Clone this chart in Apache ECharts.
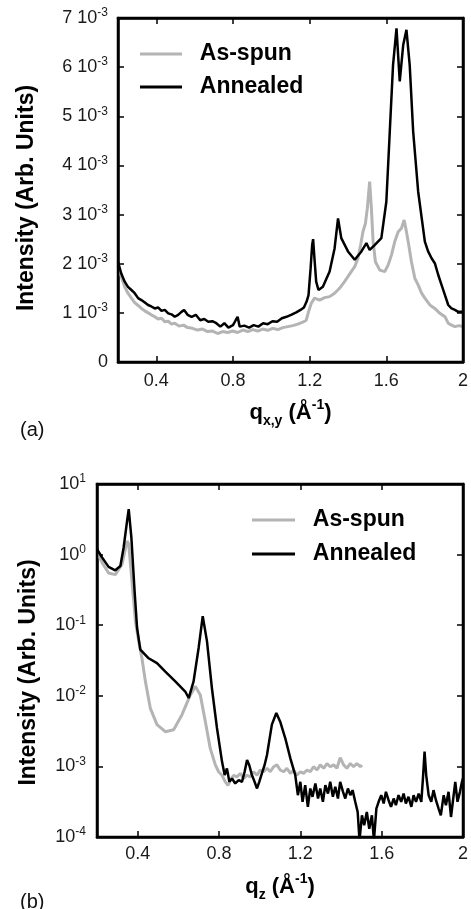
<!DOCTYPE html>
<html>
<head>
<meta charset="utf-8">
<script src="https://cdn.jsdelivr.net/npm/echarts@6/dist/echarts.min.js"></script>
<style>
  html, body { margin: 0; padding: 0; background: #fff; }
  #chartA { width: 471px; height: 455px; }
  #chartB { width: 471px; height: 454px; }
</style>
</head>
<body>
<div id="chartA"></div>
<div id="chartB"></div>
<script>
// (a) in-plane cut: [q_xy, intensity in units of 1e-3]
var annealedA = [
  [0.2, 2.04], [0.217, 1.8], [0.235, 1.635], [0.252, 1.53], [0.27, 1.465], [0.287, 1.4], [0.305, 1.3], [0.322, 1.26],
  [0.34, 1.21], [0.357, 1.16], [0.374, 1.13], [0.392, 1.09], [0.409, 1.11], [0.427, 1.04], [0.444, 1.06], [0.462, 0.99],
  [0.479, 0.97], [0.496, 0.92], [0.514, 0.96], [0.531, 1.02], [0.545, 1.06], [0.563, 0.96], [0.584, 0.92], [0.606, 0.96],
  [0.629, 0.85], [0.65, 0.875], [0.671, 0.82], [0.692, 0.83], [0.713, 0.79], [0.734, 0.72], [0.755, 0.79], [0.776, 0.7],
  [0.8, 0.75], [0.814, 0.85], [0.824, 0.92], [0.835, 0.72], [0.859, 0.74], [0.884, 0.7], [0.908, 0.75], [0.932, 0.72],
  [0.957, 0.79], [0.981, 0.77], [1.006, 0.83], [1.03, 0.82], [1.055, 0.89], [1.079, 0.92], [1.103, 0.96], [1.13, 1.01],
  [1.152, 1.06], [1.17, 1.11], [1.184, 1.23], [1.194, 1.36], [1.205, 1.91], [1.213, 2.38], [1.218, 2.5], [1.225, 2.11],
  [1.234, 1.635], [1.246, 1.465], [1.269, 1.53], [1.304, 1.84], [1.33, 2.31], [1.348, 2.92], [1.365, 2.52], [1.4, 2.25],
  [1.435, 2.08], [1.47, 2.25], [1.496, 2.42], [1.513, 2.28], [1.539, 2.38], [1.574, 2.52], [1.6, 3.26], [1.618, 4.69],
  [1.635, 6.04], [1.653, 6.79], [1.67, 5.71], [1.688, 6.45], [1.705, 6.76], [1.722, 6.04], [1.74, 4.69], [1.766, 3.47],
  [1.801, 2.45], [1.818, 2.25], [1.836, 2.11], [1.853, 2.01], [1.871, 1.77], [1.888, 1.57], [1.906, 1.36], [1.923, 1.16],
  [1.94, 1.09], [1.958, 1.06], [1.975, 1.02], [2.0, 1.02]
];
var asSpunA = [
  [0.2, 1.97], [0.217, 1.74], [0.235, 1.53], [0.252, 1.4], [0.27, 1.3], [0.287, 1.21], [0.305, 1.15], [0.322, 1.09],
  [0.34, 1.04], [0.357, 1.0], [0.374, 0.96], [0.392, 0.92], [0.409, 0.875], [0.427, 0.89], [0.444, 0.82], [0.462, 0.83],
  [0.479, 0.77], [0.496, 0.79], [0.519, 0.73], [0.542, 0.75], [0.563, 0.7], [0.589, 0.685], [0.615, 0.65], [0.641, 0.67],
  [0.667, 0.62], [0.694, 0.63], [0.72, 0.58], [0.746, 0.62], [0.772, 0.6], [0.798, 0.63], [0.824, 0.6], [0.851, 0.65],
  [0.877, 0.62], [0.903, 0.66], [0.929, 0.63], [0.955, 0.67], [0.981, 0.645], [1.007, 0.685], [1.034, 0.66], [1.06, 0.7],
  [1.086, 0.72], [1.112, 0.74], [1.138, 0.77], [1.164, 0.81], [1.182, 0.85], [1.194, 1.02], [1.208, 1.19], [1.225, 1.3],
  [1.252, 1.26], [1.278, 1.31], [1.304, 1.33], [1.33, 1.4], [1.356, 1.5], [1.382, 1.635], [1.4, 1.74], [1.417, 1.84],
  [1.435, 1.94], [1.452, 2.11], [1.466, 2.38], [1.478, 2.65], [1.491, 2.82], [1.501, 3.13], [1.513, 3.67], [1.522, 3.13],
  [1.531, 2.45], [1.543, 2.04], [1.566, 1.87], [1.592, 1.84], [1.609, 1.97], [1.627, 2.18], [1.644, 2.45], [1.662, 2.65],
  [1.679, 2.72], [1.693, 2.89], [1.705, 2.65], [1.717, 2.38], [1.731, 2.04], [1.749, 1.7], [1.766, 1.57], [1.784, 1.4],
  [1.801, 1.3], [1.827, 1.16], [1.853, 1.09], [1.879, 0.99], [1.906, 0.92], [1.923, 0.79], [1.94, 0.75], [1.958, 0.72],
  [1.979, 0.74], [2.0, 0.72]
];

// (b) out-of-plane cut: [q_z, intensity]
var annealedB = [
  [0.2, 1.19], [0.225, 0.91], [0.257, 0.67], [0.29, 0.6], [0.315, 0.69], [0.331, 1.26], [0.348, 3.0], [0.356, 4.4],
  [0.369, 1.75], [0.385, 0.3], [0.397, 0.092], [0.413, 0.045], [0.454, 0.034], [0.495, 0.029], [0.536, 0.022], [0.585, 0.016],
  [0.634, 0.0115], [0.651, 0.0093], [0.675, 0.016], [0.7, 0.048], [0.72, 0.134], [0.741, 0.059], [0.765, 0.0129], [0.79, 0.0035],
  [0.815, 0.00116], [0.828, 0.000753], [0.839, 0.000937], [0.851, 0.000605], [0.864, 0.000675], [0.88, 0.000573], [0.897, 0.000639], [0.913, 0.000605],
  [0.926, 0.00084], [0.938, 0.00123], [0.949, 0.00104], [0.962, 0.000753], [0.975, 0.000605], [0.987, 0.000487], [0.998, 0.000605], [1.011, 0.000795],
  [1.024, 0.00104], [1.036, 0.00145], [1.06, 0.0039], [1.082, 0.0057], [1.101, 0.0043], [1.126, 0.0025], [1.151, 0.0013], [1.175, 0.000753],
  [1.188, 0.000391], [1.2, 0.000605], [1.211, 0.000315], [1.224, 0.000543], [1.237, 0.000267], [1.249, 0.000487], [1.26, 0.000371], [1.274, 0.000573],
  [1.287, 0.000351], [1.298, 0.000487], [1.311, 0.000315], [1.323, 0.000543], [1.336, 0.000413], [1.347, 0.000605], [1.36, 0.000371], [1.372, 0.000514],
  [1.385, 0.000351], [1.396, 0.000605], [1.41, 0.000436], [1.421, 0.000351], [1.434, 0.000487], [1.446, 0.000391], [1.457, 0.000461], [1.47, 0.000315],
  [1.482, 0.000226], [1.491, 0.00009], [1.503, 0.000203], [1.514, 0.000147], [1.527, 0.000226], [1.539, 0.000131], [1.552, 0.000203], [1.562, 0.00009],
  [1.574, 0.000253], [1.585, 0.000315], [1.598, 0.000391], [1.61, 0.000298], [1.621, 0.000436], [1.634, 0.000332], [1.646, 0.000267], [1.659, 0.000351],
  [1.67, 0.000282], [1.683, 0.000391], [1.696, 0.000315], [1.708, 0.000413], [1.719, 0.000298], [1.732, 0.000371], [1.746, 0.000267], [1.757, 0.000391],
  [1.769, 0.000315], [1.782, 0.000413], [1.795, 0.000315], [1.803, 0.000675], [1.811, 0.00162], [1.819, 0.000753], [1.831, 0.000391], [1.844, 0.000315],
  [1.855, 0.000461], [1.867, 0.000332], [1.88, 0.000253], [1.891, 0.000203], [1.905, 0.000391], [1.916, 0.000282], [1.929, 0.000436], [1.941, 0.000192],
  [1.952, 0.000351], [1.962, 0.000605], [1.973, 0.000315], [1.985, 0.000436], [1.995, 0.000605], [2.0, 0.000675]
];
var asSpunB = [
  [0.2, 1.07], [0.225, 0.77], [0.257, 0.55], [0.29, 0.52], [0.323, 0.73], [0.348, 1.56], [0.356, 1.4], [0.372, 0.42],
  [0.389, 0.114], [0.405, 0.059], [0.421, 0.034], [0.438, 0.016], [0.462, 0.0067], [0.495, 0.0039], [0.536, 0.0031], [0.577, 0.0033],
  [0.618, 0.0054], [0.659, 0.0103], [0.684, 0.0136], [0.708, 0.0103], [0.733, 0.0043], [0.757, 0.0018], [0.782, 0.00105], [0.798, 0.00084],
  [0.815, 0.00075], [0.831, 0.000605], [0.844, 0.00054], [0.856, 0.00064], [0.872, 0.00075], [0.888, 0.00071], [0.905, 0.000795], [0.921, 0.000675],
  [0.938, 0.00075], [0.954, 0.00071], [0.97, 0.00084], [0.987, 0.00075], [1.003, 0.00089], [1.02, 0.00084], [1.036, 0.00094], [1.052, 0.00084],
  [1.069, 0.00099], [1.085, 0.00105], [1.101, 0.00089], [1.118, 0.00084], [1.134, 0.00094], [1.151, 0.000795], [1.167, 0.00089], [1.183, 0.00075],
  [1.2, 0.00084], [1.216, 0.000795], [1.233, 0.00089], [1.249, 0.00084], [1.265, 0.00099], [1.282, 0.00089], [1.298, 0.00105], [1.315, 0.00094],
  [1.331, 0.0011], [1.347, 0.00099], [1.364, 0.00105], [1.38, 0.00094], [1.396, 0.00133], [1.413, 0.00105], [1.429, 0.00094], [1.446, 0.0011],
  [1.462, 0.00099], [1.478, 0.0011], [1.495, 0.00099], [1.503, 0.00105]
];

var qTicks = [0.4, 0.8, 1.2, 1.6, 2];
var seriesNames = ['As-spun', 'Annealed'];

var font = '"Liberation Sans", Arial, sans-serif';
var grey = '#b4b4b4';
var black = '#000';

var axisLine = { show: true, onZero: false, lineStyle: { color: '#000', width: 2.5 } };
var tickIn = { show: true, inside: true, length: 6, lineStyle: { color: '#000', width: 1.5 } };

var labelRich = {
  n: { fontSize: 18, fontFamily: font, color: '#1a1a1a', lineHeight: 22 },
  s: { fontSize: 12, fontFamily: font, color: '#1a1a1a', lineHeight: 12, verticalAlign: 'top' }
};
var nameRich = {
  b: { fontSize: 22, fontWeight: 'bold', fontFamily: font, color: '#000', lineHeight: 30 },
  sub: { fontSize: 14, fontWeight: 'bold', fontFamily: font, color: '#000', lineHeight: 14, verticalAlign: 'bottom' },
  sup: { fontSize: 14, fontWeight: 'bold', fontFamily: font, color: '#000', lineHeight: 14, verticalAlign: 'top' }
};

function qAxis(pos, name, gap, margin) {
  return {
    type: 'value', position: pos, min: 0.2, max: 2,
    name: name, nameLocation: 'middle', nameGap: gap,
    nameTextStyle: { rich: nameRich },
    axisLine: axisLine,
    axisTick: Object.assign({ customValues: qTicks }, tickIn),
    axisLabel: {
      show: pos === 'bottom', customValues: qTicks, margin: margin,
      fontSize: 18, fontFamily: font, color: '#1a1a1a',
      formatter: function (v) { return v === 2 ? '2' : v.toFixed(1); }
    },
    splitLine: { show: false }
  };
}

function yNameStyle(shift) {
  return { fontSize: 23, fontWeight: 'bold', fontFamily: font, color: '#000', padding: [0, shift, 0, 0] };
}
var legendText = { fontSize: 23, fontWeight: 'bold', fontFamily: font, color: '#000', lineHeight: 26 };

function panelTitle(text, top) {
  return { text: text, left: 15, top: top, textStyle: { fontSize: 20, fontWeight: 'normal', fontFamily: font, color: '#111' } };
}

function lineSeries(name, data, color, width) {
  return { name: name, type: 'line', data: data, showSymbol: false,
    lineStyle: { color: color, width: width } };
}

// closed box round the plot, placed through the chart's own axes
function addFrame(chart, xr, yr) {
  var p0 = chart.convertToPixel({ gridIndex: 0 }, [xr[0], yr[1]]);
  var p1 = chart.convertToPixel({ gridIndex: 0 }, [xr[1], yr[0]]);
  chart.setOption({
    graphic: [{
      type: 'rect', z: 10, silent: true,
      shape: { x: p0[0], y: p0[1], width: p1[0] - p0[0], height: p1[1] - p0[1] },
      style: { fill: 'transparent', stroke: '#000', lineWidth: 2.5 }
    }]
  });
}

// panel (a): linear intensity
var chartA = echarts.init(document.getElementById('chartA'));
chartA.setOption({
  animation: false,
  backgroundColor: '#fff',
  color: [grey, black],
  title: panelTitle('(a)', 415),
  legend: {
    data: seriesNames, orient: 'vertical', left: 135, top: 36, itemGap: 7,
    icon: 'rect', itemWidth: 42, itemHeight: 3, formatter: '  {name}',
    textStyle: legendText
  },
  grid: { left: 118, top: 18, width: 345, height: 344 },
  xAxis: [
    qAxis('bottom', '{b|q}{sub|x,y}{b| (Å}{sup|-1}{b|)}', 36, 10),
    qAxis('top', '', 0, 0)
  ],
  yAxis: [
    {
      type: 'value', position: 'left', min: 0, max: 7, interval: 1,
      name: 'Intensity (Arb. Units)', nameLocation: 'middle', nameGap: 80, nameTextStyle: yNameStyle(16),
      axisLine: axisLine, axisTick: tickIn, splitLine: { show: false },
      axisLabel: {
        margin: 10, rich: labelRich,
        formatter: function (v) { return v === 0 ? '{n|0}' : '{n|' + v + ' 10}{s|-3}'; }
      }
    },
    {
      type: 'value', position: 'right', min: 0, max: 7, interval: 1,
      axisLine: axisLine, axisTick: tickIn, axisLabel: { show: false }, splitLine: { show: false }
    }
  ],
  series: [
    lineSeries('As-spun', asSpunA, grey, 3),
    lineSeries('Annealed', annealedA, black, 2.5)
  ]
});
addFrame(chartA, [0.2, 2], [0, 7]);

// panel (b): log intensity
var chartB = echarts.init(document.getElementById('chartB'));
chartB.setOption({
  animation: false,
  backgroundColor: '#fff',
  color: [grey, black],
  title: panelTitle('(b)', 432),
  legend: {
    data: seriesNames, orient: 'vertical', left: 247, top: 47, itemGap: 8,
    icon: 'rect', itemWidth: 43, itemHeight: 3, formatter: '  {name}',
    textStyle: legendText
  },
  grid: { left: 97, top: 29, width: 366, height: 353 },
  xAxis: [
    qAxis('bottom', '{b|q}{sub|z}{b| (Å}{sup|-1}{b|)}', 35, 8),
    qAxis('top', '', 0, 0)
  ],
  yAxis: [
    {
      type: 'log', logBase: 10, position: 'left', min: 0.0001, max: 10,
      name: 'Intensity (Arb. Units)', nameLocation: 'middle', nameGap: 57, nameTextStyle: yNameStyle(24),
      axisLine: axisLine, axisTick: tickIn, splitLine: { show: false }, minorTick: { show: false },
      axisLabel: {
        margin: 11, rich: labelRich,
        formatter: function (v) { return '{n|10}{s|' + Math.round(Math.log10(v)) + '}'; }
      }
    },
    {
      type: 'log', logBase: 10, position: 'right', min: 0.0001, max: 10,
      axisLine: axisLine, axisTick: tickIn, axisLabel: { show: false }, splitLine: { show: false }
    }
  ],
  series: [
    lineSeries('As-spun', asSpunB, grey, 3),
    lineSeries('Annealed', annealedB, black, 2.5)
  ]
});
addFrame(chartB, [0.2, 2], [0.0001, 10]);
</script>
</body>
</html>
